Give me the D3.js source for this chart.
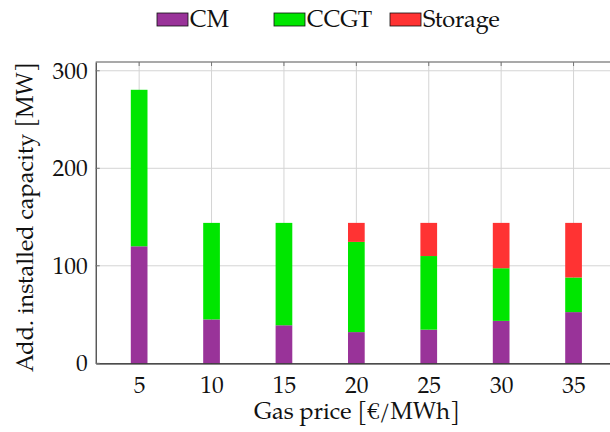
<!DOCTYPE html>
<html>
<head>
<meta charset="utf-8">
<script src="https://cdn.jsdelivr.net/npm/d3@7"></script>
<style>
  html, body { margin: 0; padding: 0; background: #fff; }
  svg { display: block; }
</style>
</head>
<body>
<svg id="chart" width="610" height="432"></svg>
<script>
// Gas price scenarios [€/MWh]
const gasPrices = [5, 10, 15, 20, 25, 30, 35];
// Additional installed capacity per technology [MW]
const cmValues      = [120, 45, 39, 32, 34.5, 43.5, 52.5];
const ccgtValues    = [160.5, 99, 105, 92.5, 75.5, 54, 35.5];
const storageValues = [0, 0, 0, 19.5, 34, 46.5, 56];

const seriesNames  = ["CM", "CCGT", "Storage"];
const seriesColors = ["#993399", "#00e600", "#ff3333"];
const yTicks = [0, 100, 200, 300];
const xLabel = "Gas price [€/MWh]";
const yLabel = "Add. installed capacity [MW]";

const FONT = '"TeX Gyre Pagella", "Liberation Serif", serif';
const FS = 23.5;

const svg = d3.select("#chart");
const plot = { left: 95.7, top: 62, bottom: 363.3, right: 617 };

const x = d3.scaleLinear().domain([2, 38]).range([plot.left, plot.right]);
const y = d3.scaleLinear().domain([0, 309]).range([plot.bottom, plot.top]);
const barWidth = 16.7;

// Grid lines
const grid = svg.append("g").attr("stroke", "#d4d4d4").attr("stroke-width", 1);
grid.selectAll("line.v").data(gasPrices).join("line")
  .attr("x1", d => x(d)).attr("x2", d => x(d))
  .attr("y1", plot.top).attr("y2", plot.bottom);
grid.selectAll("line.h").data(yTicks.filter(d => d > 0)).join("line")
  .attr("x1", plot.left).attr("x2", plot.right)
  .attr("y1", d => y(d)).attr("y2", d => y(d));

// Stacked bars
const rows = gasPrices.map((p, i) => ({ price: p, CM: cmValues[i], CCGT: ccgtValues[i], Storage: storageValues[i] }));
const stacked = d3.stack().keys(seriesNames)(rows);
svg.append("g").selectAll("g").data(stacked).join("g")
  .attr("fill", (d, i) => seriesColors[i])
  .selectAll("rect").data(d => d.filter(s => s[1] - s[0] > 0)).join("rect")
  .attr("x", d => x(d.data.price) - barWidth / 2)
  .attr("width", barWidth)
  .attr("y", d => y(d[1]))
  .attr("height", d => y(d[0]) - y(d[1]));

// Axes frame
const xAxisBottom = d3.axisBottom(x).tickValues(gasPrices).tickSize(0).tickPadding(13);
const gx = svg.append("g").attr("transform", `translate(0,${plot.bottom})`).call(xAxisBottom);
gx.select(".domain").attr("stroke", "#111").attr("stroke-width", 1.2);
gx.selectAll("text").style("font-family", FONT).style("font-size", FS + "px").attr("fill", "#111");

const yAxisLeft = d3.axisLeft(y).tickValues(yTicks).tickSize(0).tickPadding(8);
const gy = svg.append("g").attr("transform", `translate(${plot.left},0)`).call(yAxisLeft);
gy.select(".domain").attr("stroke", "#222").attr("stroke-width", 1.1);
gy.selectAll("text").style("font-family", FONT).style("font-size", FS + "px").attr("fill", "#111");

// Top border and inner tick marks
svg.append("line").attr("x1", plot.left).attr("x2", plot.right)
  .attr("y1", plot.top).attr("y2", plot.top).attr("stroke", "#555").attr("stroke-width", 1.1);
svg.append("g").selectAll("line").data(gasPrices).join("line")
  .attr("x1", d => x(d)).attr("x2", d => x(d))
  .attr("y1", plot.top).attr("y2", plot.top + 4)
  .attr("stroke", "#777").attr("stroke-width", 1);
svg.append("g").selectAll("line").data(yTicks).join("line")
  .attr("x1", plot.left).attr("x2", plot.left + 4)
  .attr("y1", d => y(d)).attr("y2", d => y(d))
  .attr("stroke", "#777").attr("stroke-width", 1);

// Axis titles
svg.append("text").attr("x", 357).attr("y", 419).attr("text-anchor", "middle")
  .style("font-family", FONT).style("font-size", FS + "px").attr("fill", "#111").text(xLabel);
svg.append("text").attr("transform", "translate(33,217) rotate(-90)")
  .attr("text-anchor", "middle")
  .style("font-family", FONT).style("font-size", FS + "px").attr("fill", "#111").text(yLabel);

// Legend
const legendX = [157, 274, 390];
const legend = svg.append("g").selectAll("g").data(seriesNames).join("g")
  .attr("transform", (d, i) => `translate(${legendX[i]},13)`);
legend.append("rect").attr("width", 31).attr("height", 13)
  .attr("fill", (d, i) => seriesColors[i]).attr("stroke", "#111").attr("stroke-width", 0.8);
legend.append("text").attr("x", 33).attr("y", 13.5)
  .style("font-family", FONT).style("font-size", FS + "px").attr("fill", "#111").text(d => d);
</script>
</body>
</html>
